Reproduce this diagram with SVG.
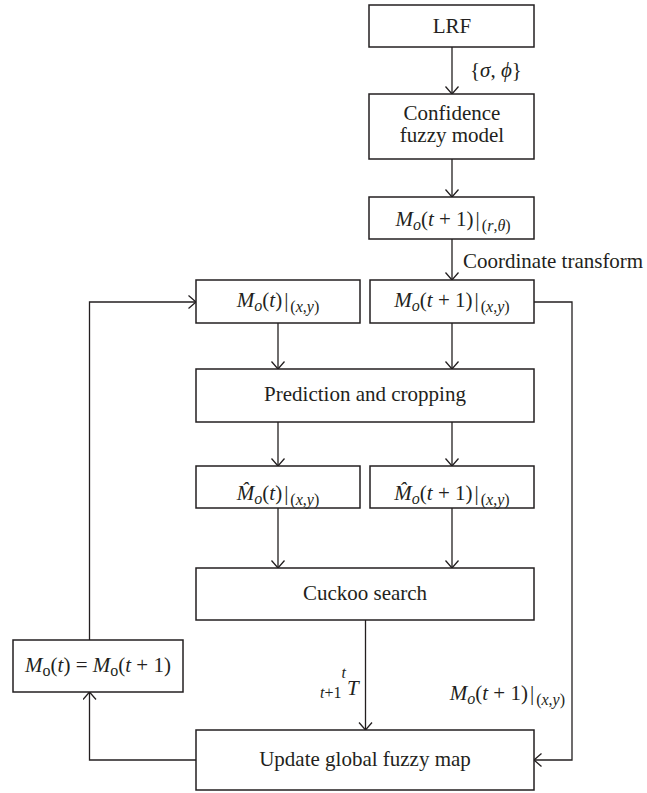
<svg xmlns="http://www.w3.org/2000/svg" width="647" height="793" viewBox="0 0 647 793">
<style>
.box{fill:#fff;stroke:#231f20;stroke-width:1.5}
.ln{fill:none;stroke:#231f20;stroke-width:1.3}
text{font-family:"Liberation Serif","Times New Roman",serif;font-size:21px;fill:#231f20}
.i{font-style:italic}
.s{font-size:16px}
</style>
<defs>
<marker id="ah" markerUnits="userSpaceOnUse" markerWidth="12" markerHeight="16" refX="8" refY="7" orient="auto">
<path d="M0.5,0.5 L8,7 L0.5,13.5" fill="none" stroke="#231f20" stroke-width="1.3"/>
</marker>
</defs>
<rect width="647" height="793" fill="#fff"/>

<g id="connectors">
<line class="ln" x1="452" y1="47" x2="452" y2="94" marker-end="url(#ah)"/>
<line class="ln" x1="452" y1="159" x2="452" y2="197" marker-end="url(#ah)"/>
<line class="ln" x1="452" y1="239" x2="452" y2="280" marker-end="url(#ah)"/>
<line class="ln" x1="278" y1="323" x2="278" y2="369" marker-end="url(#ah)"/>
<line class="ln" x1="452" y1="323" x2="452" y2="369" marker-end="url(#ah)"/>
<line class="ln" x1="278" y1="422" x2="278" y2="466" marker-end="url(#ah)"/>
<line class="ln" x1="452" y1="422" x2="452" y2="466" marker-end="url(#ah)"/>
<line class="ln" x1="278" y1="508" x2="278" y2="568" marker-end="url(#ah)"/>
<line class="ln" x1="452" y1="508" x2="452" y2="568" marker-end="url(#ah)"/>
<line class="ln" x1="365.5" y1="620" x2="365.5" y2="730" marker-end="url(#ah)"/>
<polyline class="ln" points="534,302 572,302 572,760 534,760" marker-end="url(#ah)"/>
<polyline class="ln" points="196,760 89.5,760 89.5,692" marker-end="url(#ah)"/>
<polyline class="ln" points="89.5,640 89.5,302 196,302" marker-end="url(#ah)"/>
<text x="470" y="77">{<tspan class="i">σ</tspan>, <tspan class="i">ϕ</tspan>}</text>
<text x="463" y="268">Coordinate transform</text>
<text x="320" y="698"><tspan class="i s">t</tspan><tspan class="s">+1</tspan><tspan class="i s" dy="-20">t</tspan><tspan class="i" dx="1" dy="17">T</tspan></text>
<text x="565" y="700" text-anchor="end"><tspan class="i">M</tspan><tspan class="s i" dy="4">o</tspan><tspan dy="-4">(</tspan><tspan class="i">t</tspan> + 1)<tspan dx="2">|</tspan><tspan class="s" dy="5" dx="2">(<tspan class="i">x</tspan>,<tspan class="i">y</tspan>)</tspan></text>
</g>

<g id="lrf">
<rect class="box" x="369" y="5" width="165" height="42"/>
<text x="452" y="33" text-anchor="middle">LRF</text>
</g>
<g id="confidence">
<rect class="box" x="369" y="94" width="165" height="65"/>
<text x="452" y="120" text-anchor="middle">Confidence</text>
<text x="452" y="142" text-anchor="middle">fuzzy model</text>
</g>
<g id="mo-rtheta">
<rect class="box" x="369" y="197" width="165" height="42"/>
<text x="453" y="226" text-anchor="middle"><tspan class="i">M</tspan><tspan class="s i" dy="4">o</tspan><tspan dy="-4">(</tspan><tspan class="i">t</tspan> + 1)<tspan dx="2">|</tspan><tspan class="s" dy="5" dx="2">(<tspan class="i">r</tspan>,<tspan class="i">θ</tspan>)</tspan></text>
</g>
<g id="mo-t">
<rect class="box" x="196" y="280" width="164" height="43"/>
<text x="278" y="307" text-anchor="middle"><tspan class="i">M</tspan><tspan class="s i" dy="4">o</tspan><tspan dy="-4">(</tspan><tspan class="i">t</tspan>)<tspan dx="2">|</tspan><tspan class="s" dy="5" dx="2">(<tspan class="i">x</tspan>,<tspan class="i">y</tspan>)</tspan></text>
</g>
<g id="mo-t1">
<rect class="box" x="370" y="280" width="164" height="43"/>
<text x="452" y="307" text-anchor="middle"><tspan class="i">M</tspan><tspan class="s i" dy="4">o</tspan><tspan dy="-4">(</tspan><tspan class="i">t</tspan> + 1)<tspan dx="2">|</tspan><tspan class="s" dy="5" dx="2">(<tspan class="i">x</tspan>,<tspan class="i">y</tspan>)</tspan></text>
</g>
<g id="prediction">
<rect class="box" x="196" y="369" width="338" height="53"/>
<text x="365" y="401" text-anchor="middle">Prediction and cropping</text>
</g>
<g id="hat-t">
<rect class="box" x="196" y="466" width="164" height="42"/>
<text x="278" y="500" text-anchor="middle"><tspan class="i">M̂</tspan><tspan class="s i" dy="4">o</tspan><tspan dy="-4">(</tspan><tspan class="i">t</tspan>)<tspan dx="2">|</tspan><tspan class="s" dy="5" dx="2">(<tspan class="i">x</tspan>,<tspan class="i">y</tspan>)</tspan></text>
</g>
<g id="hat-t1">
<rect class="box" x="370" y="466" width="164" height="42"/>
<text x="452" y="500" text-anchor="middle"><tspan class="i">M̂</tspan><tspan class="s i" dy="4">o</tspan><tspan dy="-4">(</tspan><tspan class="i">t</tspan> + 1)<tspan dx="2">|</tspan><tspan class="s" dy="5" dx="2">(<tspan class="i">x</tspan>,<tspan class="i">y</tspan>)</tspan></text>
</g>
<g id="cuckoo">
<rect class="box" x="196" y="568" width="338" height="52"/>
<text x="365" y="600" text-anchor="middle">Cuckoo search</text>
</g>
<g id="mo-update">
<rect class="box" x="13" y="640" width="170" height="52"/>
<text x="98" y="672" text-anchor="middle"><tspan class="i">M</tspan><tspan class="s" dy="4">o</tspan><tspan dy="-4">(</tspan><tspan class="i">t</tspan>) = <tspan class="i">M</tspan><tspan class="s" dy="4">o</tspan><tspan dy="-4">(</tspan><tspan class="i">t</tspan> + 1)</text>
</g>
<g id="update">
<rect class="box" x="196" y="730" width="338" height="60"/>
<text x="365" y="766" text-anchor="middle">Update global fuzzy map</text>
</g>
</svg>
